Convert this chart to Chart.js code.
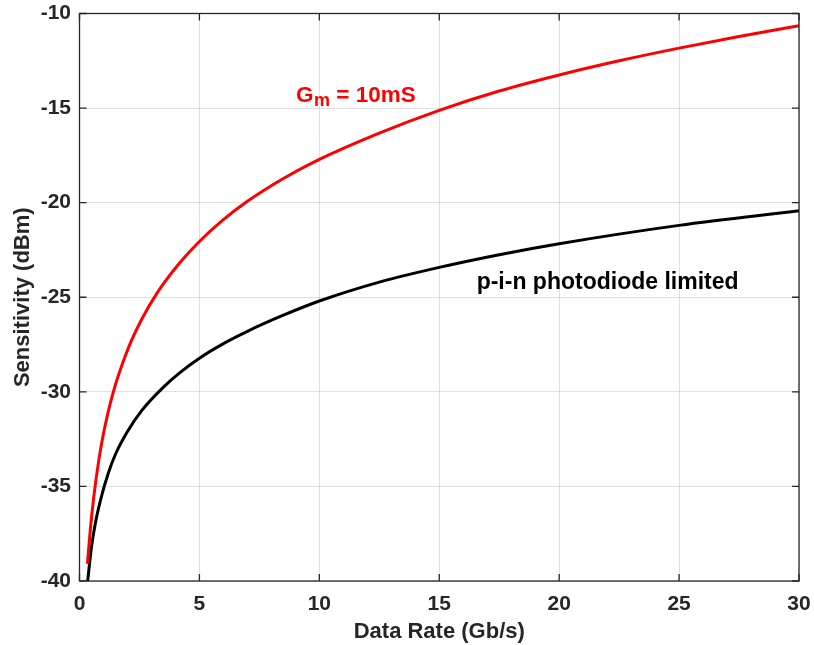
<!DOCTYPE html>
<html>
<head>
<meta charset="utf-8">
<script src="https://cdn.jsdelivr.net/npm/chart.js@4.4.1/dist/chart.umd.min.js"></script>
<style>
  html, body { margin: 0; padding: 0; background: #ffffff; }
  #wrap { width: 814px; height: 645px; position: relative; }
</style>
</head>
<body>
<div id="wrap"><canvas id="c" width="814" height="645"></canvas></div>
<script>
// ---- data ----
const rateGm  = [0.33, 0.45, 0.6, 0.8, 1.0, 1.4, 2.0, 2.6, 3.3, 4.2, 5, 6, 7, 8.5, 10, 12.5, 15, 17.5, 20, 22.5, 25, 27.5, 30];
const sensGm  = [-39.1, -37.3, -35.5, -33.65, -32.2, -30.05, -27.8, -26.15, -24.65, -23.15, -22.05, -20.9, -19.93, -18.72, -17.71, -16.32, -15.12, -14.1, -13.25, -12.5, -11.83, -11.22, -10.64];
const ratePin = [0.34, 0.5, 0.7, 0.9, 1.2, 1.5, 2, 2.6, 3.5, 4.2, 5, 6, 7, 8.5, 10, 12.5, 15, 17.5, 20, 25, 30];
const sensPin = [-40.0, -38.2, -36.7, -35.6, -34.3, -33.3, -32.1, -30.98, -29.75, -28.97, -28.22, -27.45, -26.8, -25.95, -25.2, -24.2, -23.42, -22.75, -22.17, -21.2, -20.43];
const xTicks = [0, 5, 10, 15, 20, 25, 30];
const yTicks = [-40, -35, -30, -25, -20, -15, -10];
const xTitle = 'Data Rate (Gb/s)';
const yTitle = 'Sensitivity (dBm)';
const labelGm = ['G', 'm', ' = 10mS'];
const labelPin = 'p-i-n photodiode limited';

const toPts = (xs, ys) => xs.map((x, i) => ({ x: x, y: ys[i] }));
const FONT = "'Liberation Sans', Arial, Helvetica, sans-serif";
const AXIS_COLOR = '#262626';

const zeroPad = s => { s.paddingLeft = 0; s.paddingRight = 0; s.paddingTop = 0; s.paddingBottom = 0; };

const boxPlugin = {
  id: 'boxTicks',
  afterDraw(chart) {
    const { ctx, chartArea: a, scales } = chart;
    const xs = scales.x, ys = scales.y;
    const L = 7;
    ctx.save();
    ctx.strokeStyle = AXIS_COLOR;
    ctx.lineWidth = 1.3;
    ctx.strokeRect(a.left, a.top, a.right - a.left, a.bottom - a.top);
    ctx.beginPath();
    xTicks.forEach(v => {
      const px = xs.getPixelForValue(v);
      ctx.moveTo(px, a.bottom); ctx.lineTo(px, a.bottom - L);
      ctx.moveTo(px, a.top); ctx.lineTo(px, a.top + L);
    });
    yTicks.forEach(v => {
      const py = ys.getPixelForValue(v);
      ctx.moveTo(a.left, py); ctx.lineTo(a.left + L, py);
      ctx.moveTo(a.right, py); ctx.lineTo(a.right - L, py);
    });
    ctx.stroke();

    // annotations
    ctx.textAlign = 'left';
    ctx.textBaseline = 'alphabetic';
    ctx.fillStyle = '#ff0000';
    let gx = xs.getPixelForValue(9.03);
    const gy = ys.getPixelForValue(-14.66);
    ctx.font = 'bold 22.5px ' + FONT;
    ctx.fillText(labelGm[0], gx, gy);
    gx += ctx.measureText(labelGm[0]).width + 0.5;
    ctx.font = 'bold 18px ' + FONT;
    ctx.fillText(labelGm[1], gx, gy + 4);
    gx += ctx.measureText(labelGm[1]).width;
    ctx.font = 'bold 22.5px ' + FONT;
    ctx.fillText(labelGm[2], gx, gy);
    ctx.fillStyle = '#000000';
    ctx.font = 'bold 23px ' + FONT;
    ctx.fillText(labelPin, xs.getPixelForValue(16.56), ys.getPixelForValue(-24.58));
    ctx.restore();
  }
};

new Chart(document.getElementById('c'), {
  type: 'line',
  data: {
    datasets: [
      {
        label: 'Gm = 10mS',
        data: toPts(rateGm, sensGm),
        borderColor: '#ff0000',
        borderWidth: 3,
        pointRadius: 0,
        cubicInterpolationMode: 'monotone',
        fill: false
      },
      {
        label: 'p-i-n photodiode limited',
        data: toPts(ratePin, sensPin),
        borderColor: '#000000',
        borderWidth: 3,
        pointRadius: 0,
        cubicInterpolationMode: 'monotone',
        fill: false
      }
    ]
  },
  options: {
    responsive: false,
    animation: false,
    devicePixelRatio: 1,
    layout: { padding: { left: 0, right: 15, top: 13.5, bottom: 0 } },
    plugins: { legend: { display: false }, tooltip: { enabled: false } },
    scales: {
      x: {
        type: 'linear',
        min: 0, max: 30,
        afterBuildTicks: s => { s.ticks = xTicks.map(v => ({ value: v })); },
        afterFit: s => { s.height = 64; zeroPad(s); },
        grid: { color: 'rgba(0,0,0,0.12)', lineWidth: 1, drawTicks: false },
        border: { display: false },
        ticks: { color: AXIS_COLOR, font: { family: FONT, size: 21, weight: 'bold' }, padding: 11, maxRotation: 0 },
        title: { display: true, text: xTitle, color: AXIS_COLOR, font: { family: FONT, size: 22, weight: 'bold' }, padding: { top: 0, bottom: 0 } }
      },
      y: {
        type: 'linear',
        min: -40, max: -10,
        afterBuildTicks: s => { s.ticks = yTicks.map(v => ({ value: v })); },
        afterFit: s => { s.width = 79.5; zeroPad(s); },
        grid: { color: 'rgba(0,0,0,0.12)', lineWidth: 1, drawTicks: false },
        border: { display: false },
        ticks: { color: AXIS_COLOR, font: { family: FONT, size: 21, weight: 'bold' }, padding: 8.5 },
        title: { display: true, text: yTitle, color: AXIS_COLOR, font: { family: FONT, size: 22, weight: 'bold' }, padding: { top: 10, bottom: 0 } }
      }
    }
  },
  plugins: [boxPlugin]
});
</script>
</body>
</html>
